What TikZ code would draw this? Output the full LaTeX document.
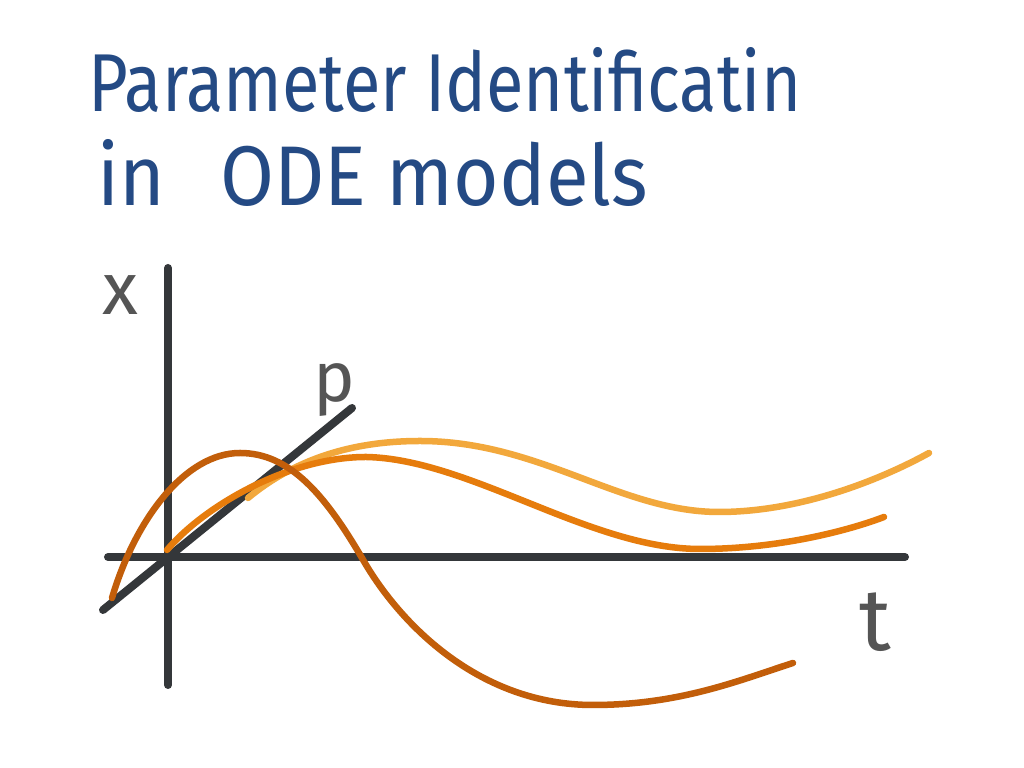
\documentclass[tikz,border=0pt]{standalone}
\usepackage{fontspec}
\newfontfamily\hand{Fira Sans}
\usepackage{graphicx}
\definecolor{titleblue}{RGB}{36,74,132}
\definecolor{axisgray}{RGB}{52,55,58}
\definecolor{labelgray}{RGB}{85,85,85}
\definecolor{darkorange}{RGB}{194,94,10}
\definecolor{midorange}{RGB}{230,124,12}
\definecolor{lightorange}{RGB}{242,168,60}
\tikzset{
  axisline/.style={draw=axisgray, line width=0.08cm, line cap=round},
  curveline/.style={line width=0.065cm, line cap=round, line join=round},
  titletext/.style={text=titleblue, inner sep=0pt, font=\hand},
  axislabel/.style={text=labelgray, inner sep=0pt, font=\hand}
}
\begin{document}
\begin{tikzpicture}[x=0.01cm,y=-0.01cm]
\useasboundingbox (0,0) rectangle (1024,768);
\fill[white] (0,0) rectangle (1024,768);
% title
\node[titletext, anchor=base west] (title1) at (88,112) {\resizebox{7.12cm}{0.64cm}{Parameter Identificatin}};
\node[titletext, anchor=base west] (title2) at (97,206) {\resizebox{5.5cm}{0.66cm}{in\hspace{0.7em}ODE models}};
% axes
\coordinate (ytop) at (168,268);
\coordinate (ybot) at (168,685);
\coordinate (xleft) at (108,557);
\coordinate (xright) at (905,557);
\coordinate (pstart) at (103,610);
\coordinate (pend) at (352,408);
\draw[axisline] (ytop) -- (ybot);
\draw[axisline] (xleft) -- (xright);
\draw[axisline] (pstart) -- (pend);
% labels
\node[axislabel] (xlab) at (120,295) {\fontsize{21}{24}\selectfont x};
\node[axislabel] (plab) at (334,390) {\fontsize{20}{24}\selectfont p};
\node[axislabel] (tlab) at (875,622) {\fontsize{25}{28}\selectfont t};
% curves
\draw[curveline, lightorange] (248,498) .. controls (300,455) and (360,441) .. (420,441)
  .. controls (540,441) and (620,512) .. (719,512)
  .. controls (800,512) and (880,480) .. (929,453);
\draw[curveline, midorange] (167,550) .. controls (205,505) and (290,457) .. (366,457)
  .. controls (470,459) and (590,549) .. (700,549)
  .. controls (780,549) and (850,530) .. (884,517);
\draw[curveline, darkorange] (112,598) .. controls (135,520) and (185,453) .. (240,453)
  .. controls (290,453) and (325,495) .. (362,558)
  .. controls (400,625) and (480,705) .. (593,705)
  .. controls (680,705) and (740,680) .. (793,663);
\end{tikzpicture}
\end{document}
